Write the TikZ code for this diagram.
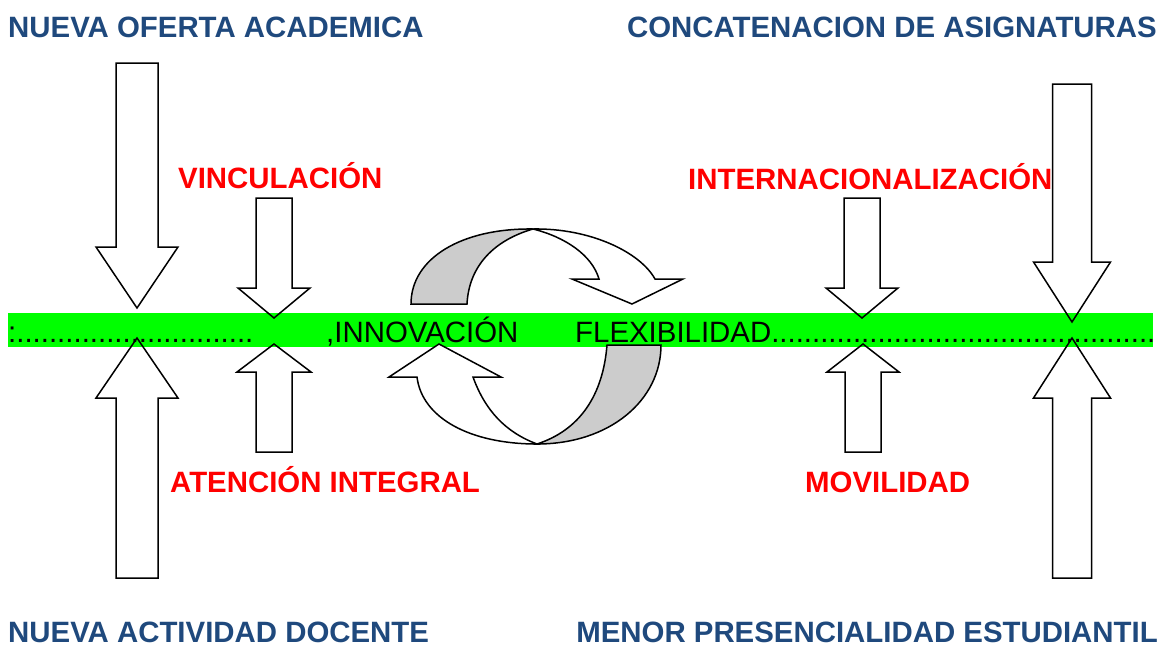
\documentclass[tikz,border=0pt]{standalone}
\usepackage{fontspec}
\setmainfont{Liberation Sans}
\usepackage{tikz}

\definecolor{titleblue}{RGB}{31,73,125}
\definecolor{bargreen}{RGB}{0,255,0}
\definecolor{backgrey}{RGB}{204,204,204}

\begin{document}
\begin{tikzpicture}
  [x=1pt,y=-1pt,
   title/.style={anchor=base west,inner sep=0pt,text=titleblue,font=\fontsize{29.4}{34}\selectfont\bfseries},
   axis label/.style={anchor=base west,inner sep=0pt,text=red,font=\fontsize{29.4}{34}\selectfont\bfseries},
   band text/.style={anchor=base west,inner sep=0pt,font=\fontsize{29.4}{34}\selectfont},
   blockarrow/.style={draw=black,line width=1.5pt},
   turnfront/.style={draw=black,fill=white,line width=1.5pt},
   turnback/.style={draw=black,fill=backgrey,line width=1.5pt}]
  \useasboundingbox (0,0) rectangle (1160,646);

  \fill[bargreen] (8,313) rectangle (1153,347);

  \filldraw[turnfront] (533,229) .. controls (590,228) and (640,252) .. (655,279)
    -- (683,279) -- (632,304) -- (572,279) -- (599,279)
    .. controls (592,255) and (565,237) .. (533,229) -- cycle;
  \filldraw[turnback] (411,304) -- (467,304) .. controls (469,265) and (495,240) .. (533,229)
    .. controls (462,228) and (411,258) .. (411,304) -- cycle;

  \filldraw[turnfront] (417,377) .. controls (422,418) and (470,444) .. (537,444)
    .. controls (505,432) and (485,410) .. (473,377)
    -- (501,377) -- (439,344) -- (389,377) -- cycle;
  \filldraw[turnback] (661,345) -- (607,345) .. controls (603,395) and (580,430) .. (537,444)
    .. controls (610,444) and (661,400) .. (661,345) -- cycle;

  \foreach \x/\sw/\hw/\t/\b/\p in {137/21/41/63/247/308, 274/18/36/198/288/318,
      862/18/36/198/288/318, 1072/19.5/38.5/84/262/322,
      137/21/41/578/398/338, 274/18/37/452/372/344,
      863/18/36/452/372/344, 1072/19.5/38.5/578/398/338}
    \draw[blockarrow] (\x-\sw,\t) -- (\x+\sw,\t) -- (\x+\sw,\b) -- (\x+\hw,\b)
      -- (\x,\p) -- (\x-\hw,\b) -- (\x-\sw,\b) -- cycle;

  \node[band text] (dots) at (8,342) {:.............................};
  \node[band text] (innovacion) at (326,342) {,INNOVACIÓN};
  \node[band text] (flexibilidad) at (575,342) {FLEXIBILIDAD...............................................};

  \node[title] (oferta) at (8,37) {NUEVA OFERTA ACADEMICA};
  \node[title,anchor=base east] (asignaturas) at (1157,37) {CONCATENACION DE ASIGNATURAS};
  \node[title] (docente) at (8,642) {NUEVA ACTIVIDAD DOCENTE};
  \node[title,anchor=base east] (estudiantil) at (1158,642) {MENOR PRESENCIALIDAD ESTUDIANTIL};

  \node[axis label] (vinculacion) at (178,188) {VINCULACIÓN};
  \node[axis label] (internacional) at (688,189) {INTERNACIONALIZACIÓN};
  \node[axis label] (atencion) at (170,492) {ATENCIÓN INTEGRAL};
  \node[axis label] (movilidad) at (805,492) {MOVILIDAD};

\end{tikzpicture}
\end{document}
